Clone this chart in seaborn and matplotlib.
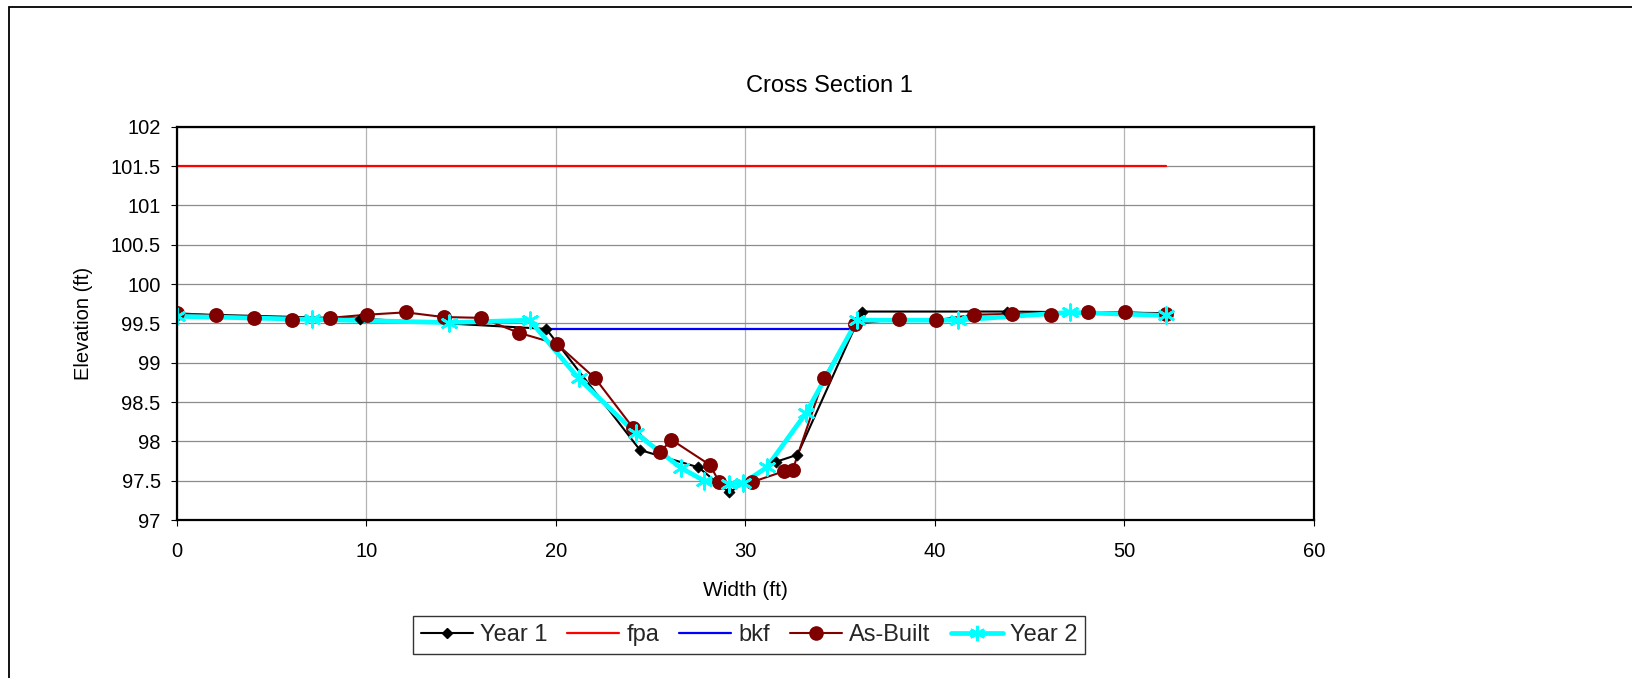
import matplotlib
matplotlib.use("Agg")
import matplotlib.pyplot as plt
from matplotlib.lines import Line2D
from matplotlib.patches import Rectangle
from matplotlib.ticker import MultipleLocator, FormatStrFormatter
import pandas as pd
import seaborn as sns

# Survey data: station (ft) and elevation (ft)
year1_x = [0, 9.66, 19.49, 24.44, 27.52, 29.15, 31.62, 32.75, 36.15, 43.81, 52.19]
year1_y = [99.62, 99.56, 99.43, 97.89, 97.67, 97.35, 97.74, 97.83, 99.65, 99.65, 99.63]

fpa_x = [0, 52.2]
fpa_y = [101.5, 101.5]

bkf_x = [19.5, 35.9]
bkf_y = [99.43, 99.43]

asbuilt_x = [0, 2.07, 4.1, 6.1, 8.1, 10.05, 12.08, 14.08, 16.05, 18.05, 20.05,
             22.08, 24.08, 25.49, 26.1, 28.13, 28.63, 30.33, 32.04, 32.5, 34.15,
             35.8, 38.11, 40.08, 42.08, 44.08, 46.11, 48.08, 50.04, 52.19]
asbuilt_y = [99.63, 99.60, 99.57, 99.54, 99.57, 99.61, 99.64, 99.58, 99.57, 99.38, 99.24,
             98.80, 98.17, 97.86, 98.02, 97.70, 97.48, 97.48, 97.62, 97.64, 98.81,
             99.49, 99.56, 99.54, 99.61, 99.62, 99.61, 99.64, 99.64, 99.62]

year2_x = [0, 7.16, 14.36, 18.63, 21.2, 24.23, 26.62, 27.82, 29.15, 29.9, 31.13,
           33.2, 35.9, 41.2, 47.13, 52.19]
year2_y = [99.59, 99.55, 99.51, 99.54, 98.80, 98.10, 97.66, 97.50, 97.46, 97.47, 97.67,
           98.36, 99.54, 99.54, 99.64, 99.60]

x_ticks = [0, 10, 20, 30, 40, 50, 60]

sns.set_theme(style="white")
plt.rcParams["font.family"] = ["Liberation Sans", "DejaVu Sans"]

W, H = 1632, 678
fig = plt.figure(figsize=(W / 100, H / 100), dpi=100)
fig.patch.set_facecolor("white")

left, right, top, bottom = 176.7, 1314, 126.7, 520
ax = fig.add_axes([left / W, 1 - bottom / H, (right - left) / W, (bottom - top) / H])

year1 = pd.DataFrame({"x": year1_x, "y": year1_y})
fpa = pd.DataFrame({"x": fpa_x, "y": fpa_y})
bkf = pd.DataFrame({"x": bkf_x, "y": bkf_y})
asbuilt = pd.DataFrame({"x": asbuilt_x, "y": asbuilt_y})
year2 = pd.DataFrame({"x": year2_x, "y": year2_y})

C_Y1, C_FPA, C_BKF, C_AB, C_Y2 = "black", "#ff0000", "#0000ff", "#800000", "#00ffff"
STAR = (6, 2, 0)

# connecting lines
common = dict(x="x", y="y", ax=ax, estimator=None, sort=False, legend=False)
sns.lineplot(data=year1, color=C_Y1, linewidth=1.5, zorder=3, **common)
sns.lineplot(data=fpa, color=C_FPA, linewidth=1.6, zorder=3, **common)
sns.lineplot(data=bkf, color=C_BKF, linewidth=1.6, zorder=3, **common)
sns.lineplot(data=asbuilt, color=C_AB, linewidth=1.5, zorder=3.1, **common)
sns.lineplot(data=year2, color=C_Y2, linewidth=3.4, zorder=3.2, **common)

# point markers on top of all lines
sns.scatterplot(data=year1, x="x", y="y", ax=ax, marker="D", s=32, color=C_Y1,
                edgecolor=C_Y1, linewidth=0.5, zorder=4, legend=False)
sns.scatterplot(data=asbuilt, x="x", y="y", ax=ax, marker="o", s=115, color=C_AB,
                edgecolor=C_AB, linewidth=0, zorder=4.1, legend=False)
sns.scatterplot(data=year2, x="x", y="y", ax=ax, marker=STAR, s=125, color=C_Y2,
                linewidth=2.0, zorder=4.2, legend=False)

ax.set_xlim(0, 60)
ax.set_ylim(97, 102)
ax.set_xticks(x_ticks)
ax.yaxis.set_major_locator(MultipleLocator(0.5))
ax.yaxis.set_major_formatter(FormatStrFormatter("%g"))

ax.xaxis.grid(True, color="#b4b4b4", linewidth=0.9)
ax.yaxis.grid(True, color="#8c8c8c", linewidth=0.9)
ax.set_axisbelow(True)

for s in ax.spines.values():
    s.set_visible(True)
    s.set_color("black")
    s.set_linewidth(1.6)
    s.set_zorder(5)

ax.tick_params(axis="both", which="major", direction="out", length=4.5, width=0.8,
               color="black", labelsize=14.5, labelcolor="black",
               bottom=True, left=True)
ax.tick_params(axis="x", pad=11)
ax.tick_params(axis="y", pad=7)

ax.set_xlabel("Width (ft)", fontsize=15, color="black", va="baseline")
ax.xaxis.set_label_coords(0.5, (bottom - 595.5) / (bottom - top))
ax.set_ylabel("Elevation (ft)", fontsize=14.5, color="black", va="center", ha="center")
ax.yaxis.set_label_coords((84 - left) / (right - left), 0.5)

fig.text(829.6 / W, 1 - 92.3 / H, "Cross Section 1", fontsize=17, color="black",
         ha="center", va="baseline")

handles = [
    Line2D([], [], color=C_Y1, lw=1.5, marker="D", markersize=5.5),
    Line2D([], [], color=C_FPA, lw=1.6),
    Line2D([], [], color=C_BKF, lw=1.6),
    Line2D([], [], color=C_AB, lw=1.5, marker="o", markersize=10.5, markeredgewidth=0),
    Line2D([], [], color=C_Y2, lw=3.4, marker=STAR, markersize=11, markeredgewidth=2.0),
]
labels = ["Year 1", "fpa", "bkf", "As-Built", "Year 2"]
leg = fig.legend(handles, labels, loc="center", bbox_to_anchor=(749 / W, 1 - 635 / H),
                 ncol=5, fontsize=17, frameon=True, fancybox=False, shadow=False,
                 handlelength=2.2, handletextpad=0.3, columnspacing=0.85,
                 borderpad=0.35, borderaxespad=0)
leg.get_frame().set_edgecolor("black")
leg.get_frame().set_linewidth(1.0)

# outer chart-area border
fig.add_artist(Rectangle((9 / W, -0.2), 1.5, 1 - 6.5 / H + 0.2, transform=fig.transFigure,
                         fill=False, edgecolor="black", linewidth=1.3))

fig.savefig("out.png", dpi=100, facecolor="white")
